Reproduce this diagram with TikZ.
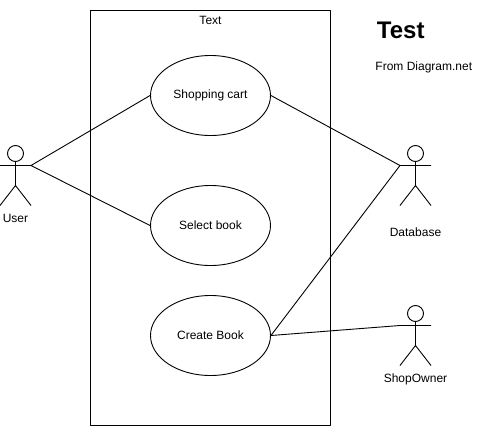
\documentclass[tikz,border=0pt]{standalone}
\usepackage{fontspec}
\setmainfont{Liberation Sans}
\usetikzlibrary{shapes.geometric}
\begin{document}
\begin{tikzpicture}[x=1pt,y=-1pt,line width=.9pt,line join=round,font=\fontsize{12}{14}\selectfont]
	\tikzset{usecase/.style={draw,ellipse,minimum width=120pt,minimum height=80pt,inner sep=0pt}}
	\tikzset{actor/.pic={
			\draw (0,-12) circle(8)
			(0,-4)--(0,20)--(-15.5,40)
			(0,20)--(15.5,40)
			(-15.5,0) coordinate(-left)--(15.5,0) coordinate(-right);}}
	\useasboundingbox (0,0) rectangle (491,426);
	\draw (90.5,10.5) rectangle (330.5,425.5);
	\node (frame) at (210.5,20.5) {Text};
	\node[usecase] (cart) at (210.5,95.5) {Shopping cart};
	\node[usecase] (select) at (210.5,225.5) {Select book};
	\node[usecase] (create) at (210.5,335.5) {Create Book};
	\path (15.5,165.5) pic (user) {actor};
	\path (415.5,165.5) pic (database) {actor};
	\path (415.5,325.5) pic (owner) {actor};
	\node (userlabel) at (15.5,218.5) {User};
	\node (databaselabel) at (415.5,232.5) {Database};
	\node (ownerlabel) at (415.5,379) {ShopOwner};
	\node[anchor=west,inner sep=0pt,font=\fontsize{24}{28}\selectfont\bfseries] (title) at (376.5,30) {Test};
	\node[anchor=west,inner sep=0pt] (subtitle) at (375,67) {From Diagram.net};
	\draw (user-right)--(cart.west) (user-right)--(select.west);
	\draw (cart.east)--(database-left) (create.east)--(database-left);
	\draw (create.east)--(owner-left);
\end{tikzpicture}
\end{document}
